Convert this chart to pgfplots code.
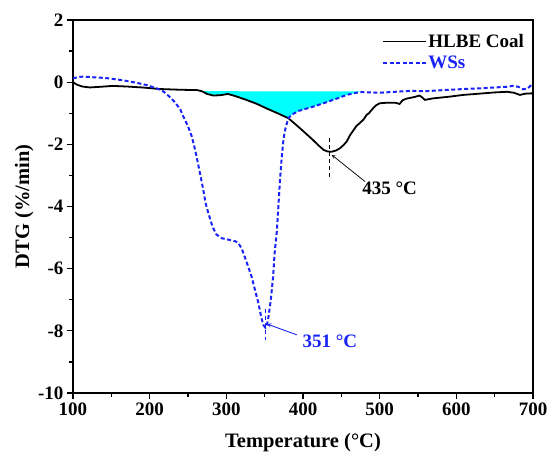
\documentclass[border=0pt]{standalone}
\usepackage{fontspec}
\setmainfont{Liberation Serif}
\usepackage{pgfplots}
\pgfplotsset{compat=1.18}
\definecolor{wsblue}{RGB}{25,35,245}
\definecolor{fillcyan}{RGB}{0,255,255}
\begin{document}
\begin{tikzpicture}
\begin{axis}[
  name=ax,
  scale only axis, width=460pt, height=373pt,
  xmin=100, xmax=700, ymin=-10, ymax=2,
  xtick={100,200,...,700}, ytick={-10,-8,...,2},
  minor x tick num=1, minor y tick num=1,
  tick align=outside, tick pos=left,
  major tick length=6pt, minor tick length=4pt,
  every tick/.style={black, line width=1.2pt},
  axis line style={line width=1.3pt},
  /pgf/number format/assume math mode=true,
  xticklabel={\textbf{\pgfmathprintnumber{\tick}}},
  yticklabel={\textbf{\pgfmathprintnumber{\tick}}},
  ticklabel style={font=\bfseries\fontsize{19}{19}\selectfont},
  xlabel={Temperature (°C)}, ylabel={DTG (\%/min)},
  label style={font=\bfseries\fontsize{20.5}{20.5}\selectfont},
  xlabel style={at={(axis description cs:0.5,-0.134)}, anchor=center},
  ylabel style={at={(axis description cs:-0.106,0.5)}, anchor=center},
  legend style={draw=none, fill=none, at={(0.983,0.965)}, anchor=north east,
    font=\bfseries\fontsize{19}{19}\selectfont, inner sep=0pt, row sep=5pt,
    nodes={inner xsep=1pt, inner ysep=1pt}},
  legend cell align=left,
  legend image code/.code={\draw[#1] (0pt,0pt) -- (43pt,0pt);},
]
\addplot[fill=fillcyan, draw=none, forget plot] coordinates {
(268,-0.29) (275,-0.38) (283,-0.43) (292,-0.42) (302,-0.38) (312,-0.45) (326,-0.57) (340,-0.70) (352,-0.84) (365,-0.98) (381,-1.16)
(385,-1.05) (395,-0.92) (413,-0.79) (430,-0.65) (445,-0.52) (457,-0.41) (466,-0.36) (474,-0.30)
} -- cycle;
\addplot[black, line width=1.8pt] coordinates {
(100,0.0) (105,-0.08) (112,-0.14) (122,-0.17) (135,-0.15) (152,-0.12) (170,-0.14) (190,-0.17) (213,-0.22) (235,-0.24) (250,-0.25) (261,-0.25) (268,-0.29) (275,-0.38) (283,-0.43) (292,-0.42) (302,-0.38) (312,-0.45) (326,-0.57) (340,-0.70) (352,-0.84) (365,-0.98) (381,-1.16) (396,-1.48) (405,-1.68) (413,-1.86) (420,-2.03) (427,-2.18) (432,-2.23) (437,-2.24) (443,-2.2) (448,-2.13) (453,-2.02) (457,-1.91) (461,-1.72) (466,-1.54) (470,-1.40) (474,-1.32) (479,-1.2) (483,-1.05) (486,-1.0) (490,-0.88) (495,-0.75) (500,-0.68) (510,-0.66) (520,-0.66) (526,-0.70) (530,-0.58) (535,-0.53) (545,-0.48) (552,-0.43) (556,-0.5) (559,-0.57) (570,-0.52) (590,-0.47) (609,-0.41) (630,-0.37) (650,-0.33) (666,-0.31) (675,-0.34) (683,-0.41) (690,-0.37) (698,-0.36) (700,-0.38)
};
\addplot[wsblue, line width=2pt, dash pattern=on 4pt off 2.5pt] coordinates {
(100,0.12) (106,0.16) (113,0.18) (125,0.16) (138,0.14) (148,0.12) (165,0.06) (183,-0.02) (197,-0.10) (209,-0.20) (218,-0.30) (226,-0.47) (233,-0.65) (240,-0.88) (244,-1.11) (250,-1.42) (255,-1.75) (259,-2.15) (263,-2.61) (267,-3.1) (270,-3.47) (273,-3.9) (277,-4.25) (282,-4.65) (287,-4.9) (294,-5.02) (305,-5.08) (312,-5.12) (316,-5.19) (320,-5.35) (324,-5.62) (328,-5.9) (333,-6.26) (337,-6.65) (342,-7.12) (345,-7.5) (348,-7.8) (351,-7.9) (353,-7.8) (355,-7.55) (358,-7.0) (361,-6.26) (363,-5.5) (366,-4.76) (368,-3.95) (370,-3.15) (372,-2.5) (374,-1.97) (376,-1.6) (379,-1.32) (381,-1.16) (385,-1.05) (395,-0.92) (413,-0.79) (430,-0.65) (445,-0.52) (457,-0.41) (466,-0.36) (474,-0.32) (487,-0.33) (500,-0.34) (520,-0.31) (540,-0.28) (560,-0.29) (587,-0.25) (610,-0.22) (630,-0.2) (650,-0.17) (665,-0.15) (674,-0.12) (681,-0.15) (687,-0.23) (693,-0.2) (698,-0.09) (700,-0.05)
};
\legend{\textcolor{black}{HLBE Coal}, \textcolor{wsblue}{WSs}}
\draw[black, line width=1.2pt, dash pattern=on 4pt off 3pt] (axis cs:435,-1.8) -- (axis cs:435,-3.05);
\draw[black, -stealth, line width=0.7pt] (axis cs:481,-3.2) -- (axis cs:437.5,-2.34);
\node[font=\bfseries\fontsize{19}{19}\selectfont] at (axis cs:513,-3.42) {435 °C};
\draw[wsblue, line width=1.6pt, dash pattern=on 4pt off 3pt] (axis cs:351,-7.3) -- (axis cs:351,-8.3);
\draw[wsblue, -stealth, line width=0.9pt] (axis cs:392,-8.13) -- (axis cs:353,-7.78);
\node[wsblue, font=\bfseries\fontsize{19}{19}\selectfont] at (axis cs:435,-8.33) {351 °C};
\end{axis}
\pgfresetboundingbox
\path[use as bounding box] ([xshift=-73pt,yshift=-59pt]ax.south west) rectangle ([xshift=16pt,yshift=20pt]ax.north east);
\end{tikzpicture}
\end{document}
